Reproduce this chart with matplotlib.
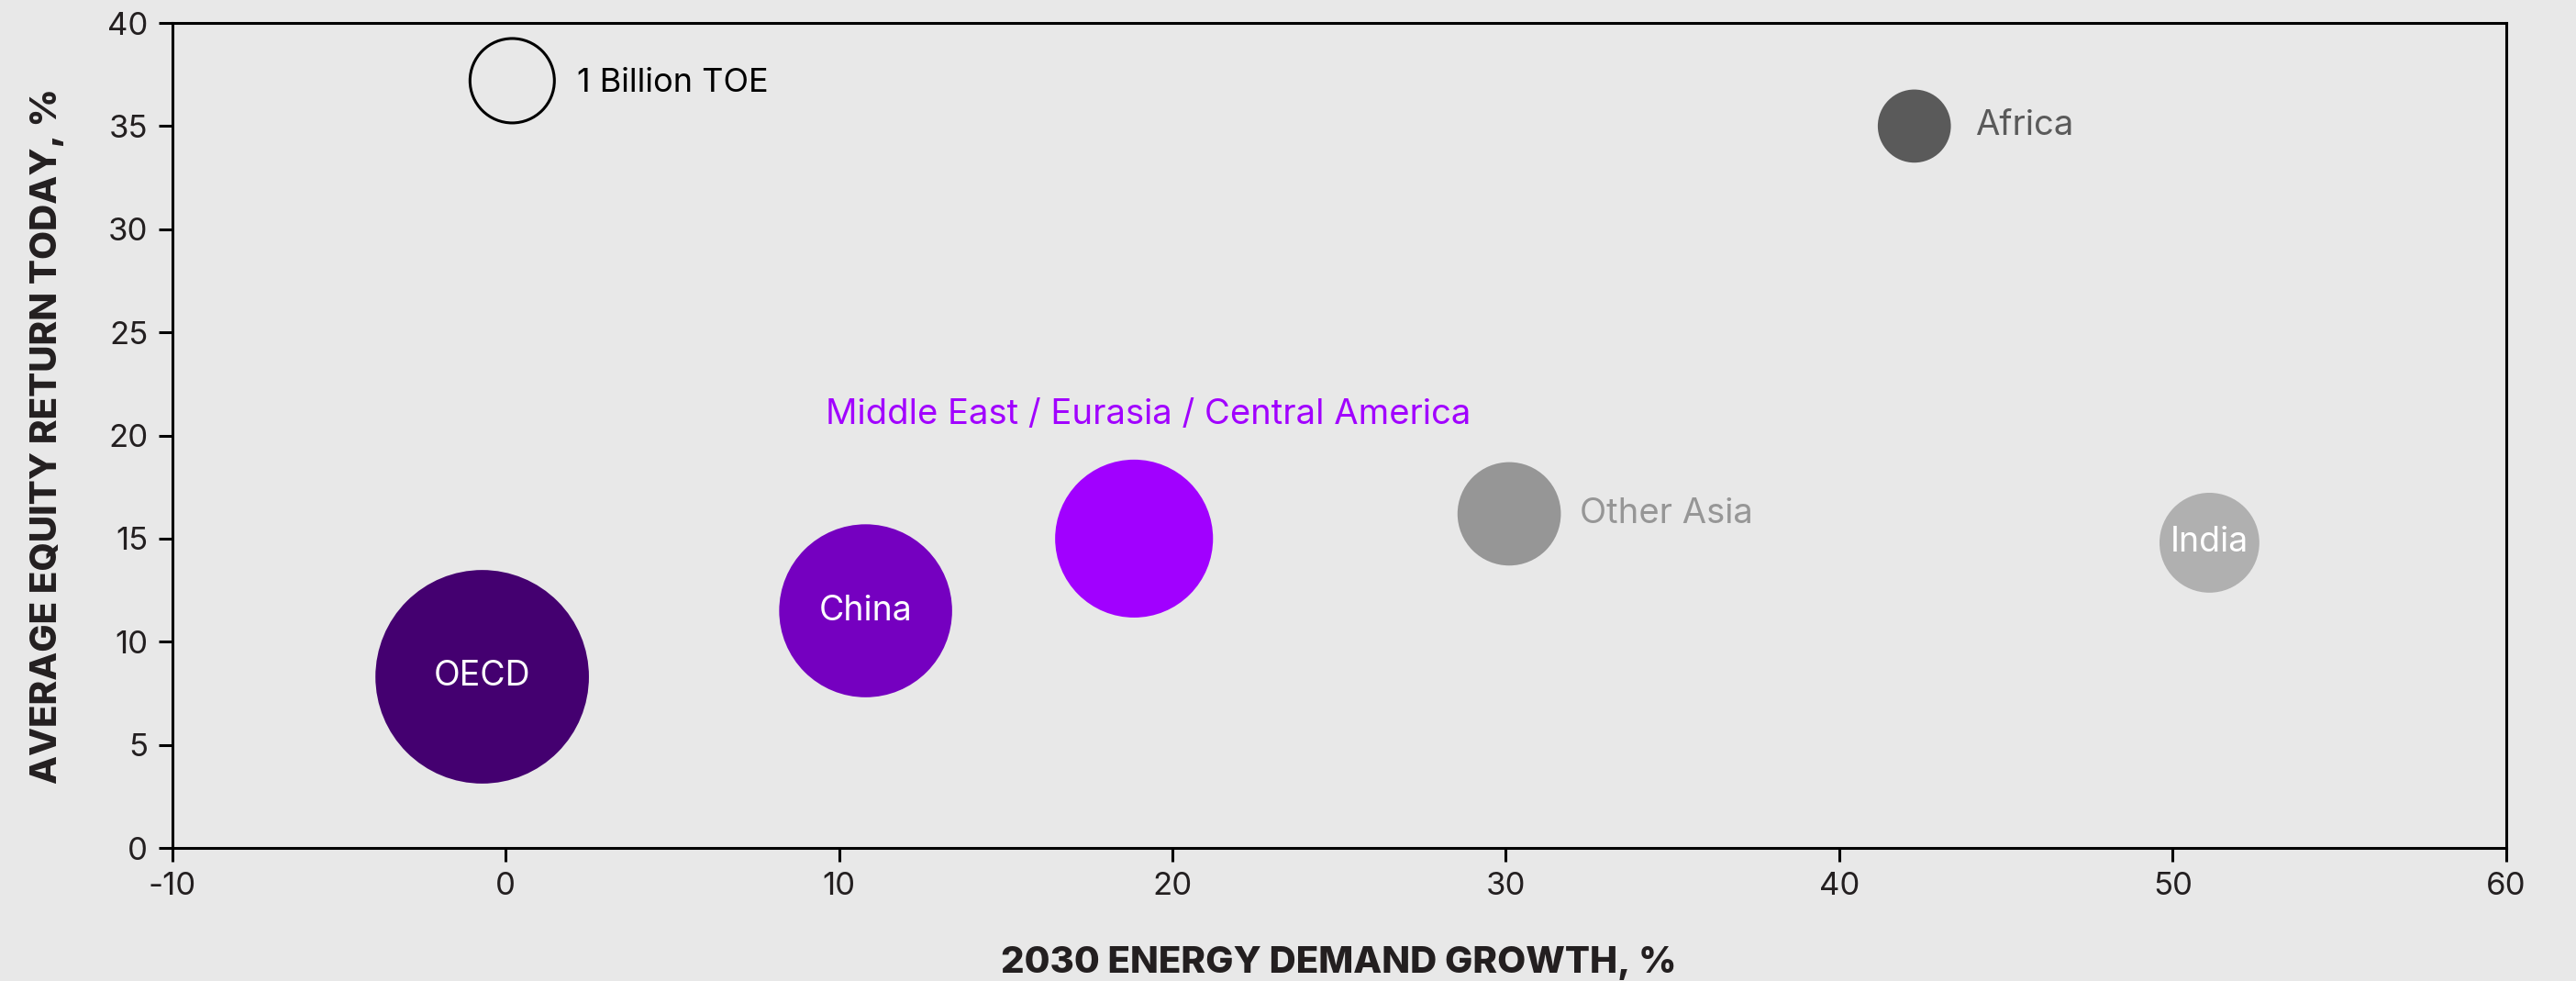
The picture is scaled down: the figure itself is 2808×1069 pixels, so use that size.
import matplotlib
matplotlib.use("Agg")
import matplotlib.pyplot as plt

# --- data ---
regions = ['OECD', 'China', 'Middle East / Eurasia / Central America', 'Other Asia', 'India', 'Africa']
demand_growth = [-0.7, 10.8, 18.85, 30.1, 51.1, 42.25]     # 2030 energy demand growth, %
equity_return = [8.3, 11.5, 15.0, 16.2, 14.8, 35.0]         # average equity return today, %
demand_btoe = [6.4, 4.2, 3.5, 1.5, 1.4, 0.75]               # bubble size, billion TOE
colors = ['#440070', '#7500C0', '#A100FF', '#969696', '#B0B0B0', '#5A5A5A']

# reference bubble
ref_x, ref_y, ref_size = 0.2, 37.2, 1.0
ref_label = '1 Billion TOE'

x_ticks = [-10, 0, 10, 20, 30, 40, 50, 60]
y_ticks = [0, 5, 10, 15, 20, 25, 30, 35, 40]

BG = '#E8E8E8'
TXT = '#231F20'
S_PER_BTOE = 4387  # points^2 per billion TOE

plt.rcParams['font.family'] = ['Inter', 'DejaVu Sans']

fig = plt.figure(figsize=(28.08, 10.69), dpi=100, facecolor=BG)
ax = fig.add_axes([0.0668, 0.1356, 0.9061, 0.841])
ax.set_facecolor(BG)

sizes = [v * S_PER_BTOE for v in demand_btoe]
ax.scatter(demand_growth, equity_return, s=sizes, c=colors, linewidths=0, zorder=3)
ax.scatter([ref_x], [ref_y], s=[ref_size * S_PER_BTOE], facecolors='none',
           edgecolors='black', linewidths=2.2, zorder=3)

# labels
ax.annotate(ref_label, (ref_x, ref_y), xytext=(51, -2), textcoords='offset points',
            ha='left', va='center', fontsize=26, color='black')
inside = {'OECD', 'China', 'India'}
for name, x, y, c in zip(regions, demand_growth, equity_return, colors):
    if name in inside:
        ax.text(x, y, name, ha='center', va='center', fontsize=27, color='white', zorder=4)
    elif name.startswith('Middle'):
        ax.annotate(name, (x, y), xytext=(11, 97), textcoords='offset points',
                    ha='center', va='center', fontsize=27.5, color=c)
    elif name == 'Other Asia':
        ax.annotate(name, (x, y), xytext=(55, 0), textcoords='offset points',
                    ha='left', va='center', fontsize=27.5, color=c)
    else:
        ax.annotate(name, (x, y), xytext=(48, 0), textcoords='offset points',
                    ha='left', va='center', fontsize=27.5, color=c)

ax.set_xlim(-10, 60)
ax.set_ylim(0, 40)
ax.set_xticks(x_ticks)
ax.set_xticklabels([str(t) for t in x_ticks])
ax.set_yticks(y_ticks)
ax.tick_params(direction='out', length=11, width=2.2, labelsize=25, colors='black',
               labelcolor=TXT, pad=8)
for sp in ax.spines.values():
    sp.set_linewidth(2.2)
    sp.set_color('black')

ax.set_xlabel('2030 ENERGY DEMAND GROWTH, %', fontsize=29, fontweight='heavy',
              color=TXT, labelpad=35)
ax.set_ylabel('AVERAGE EQUITY RETURN TODAY, %', fontsize=29, fontweight='heavy',
              color=TXT, labelpad=34)

fig.savefig('out.png', dpi=100, facecolor=BG)
